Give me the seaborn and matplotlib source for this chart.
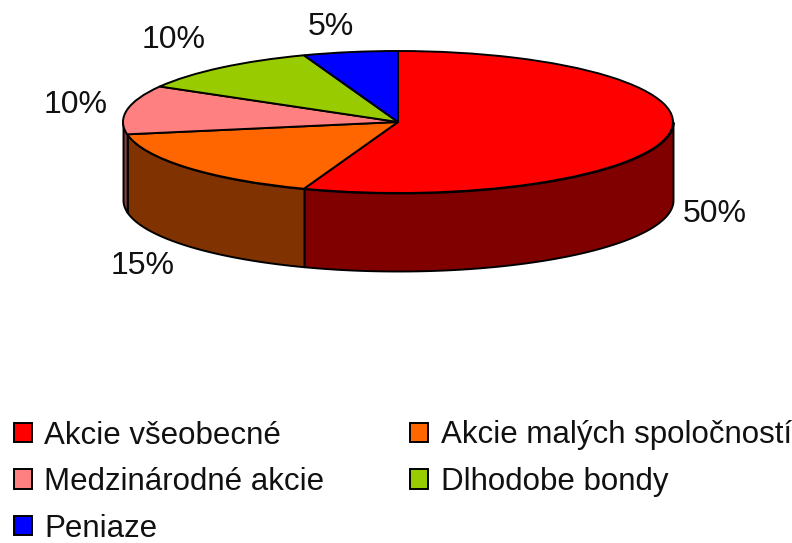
import numpy as np
import matplotlib
matplotlib.use("Agg")
import matplotlib.pyplot as plt
import seaborn as sns

categories = ["Akcie všeobecné", "Akcie malých spoločností", "Medzinárodné akcie", "Dlhodobe bondy", "Peniaze"]
values = [50, 15, 10, 10, 5]
top_colors = ["#FF0000", "#FF6600", "#FF8080", "#99CC00", "#0000FF"]
wall_colors = ["#800000", "#803300", "#804040", "#4D6600", "#000080"]
label_px = [(715, 214), (143, 266), (76, 105), (174, 40), (331, 27)]
legend_order = [0, 2, 4, 1, 3]

W, H = 792, 543
CX, CY, RX, RY, DEPTH = 398, 122, 275, 71, 78

sns.set_theme(style="white")
plt.rcParams["font.family"] = ["Liberation Sans", "DejaVu Sans"]

fig = plt.figure(figsize=(W / 100, H / 100), dpi=100, facecolor="white")
ax = fig.add_axes([0, 0, 1, 1])
palette = sns.color_palette(top_colors)

wedges, _ = ax.pie(values, colors=palette, startangle=90, counterclock=False,
                   wedgeprops=dict(edgecolor="black", linewidth=1.4, zorder=3))
ax.set_aspect("auto")
ax.set_xlim((0 - CX) / RX, (W - CX) / RX)
ax.set_ylim((CY - H) / RY, CY / RY)
ax.axis("off")
depth = DEPTH / RY

# side walls: clockwise angle measured from the top, visible on the front half
edges = np.cumsum([0] + values) / sum(values) * 360
for start, end, col in zip(edges[:-1], edges[1:], wall_colors):
    lo, hi = max(start, 90), min(end, 270)
    if hi <= lo:
        continue
    t = np.radians(np.linspace(lo, hi, 80))
    ax.fill_between(np.sin(t), np.cos(t), np.cos(t) - depth, facecolor=col,
                    edgecolor="black", linewidth=1.4, zorder=2)

for v, (px, py) in zip(values, label_px):
    ax.text((px - CX) / RX, (CY - py) / RY, f"{v}%", ha="center", va="center",
            fontsize=23, color="#111111")

fs = 22.5
leg = fig.legend([wedges[i] for i in legend_order], [categories[i] for i in legend_order],
                 ncol=2, loc="upper left",
                 bbox_to_anchor=(1 / W, 1 - 408 / H), frameon=False, fontsize=fs,
                 handlelength=0.58, handleheight=0.58, handletextpad=0.4,
                 columnspacing=2.75, labelspacing=0.53, borderpad=0.4, borderaxespad=0)
for t in leg.get_texts():
    t.set_color("#111111")

fig.savefig("out.png", dpi=100)
